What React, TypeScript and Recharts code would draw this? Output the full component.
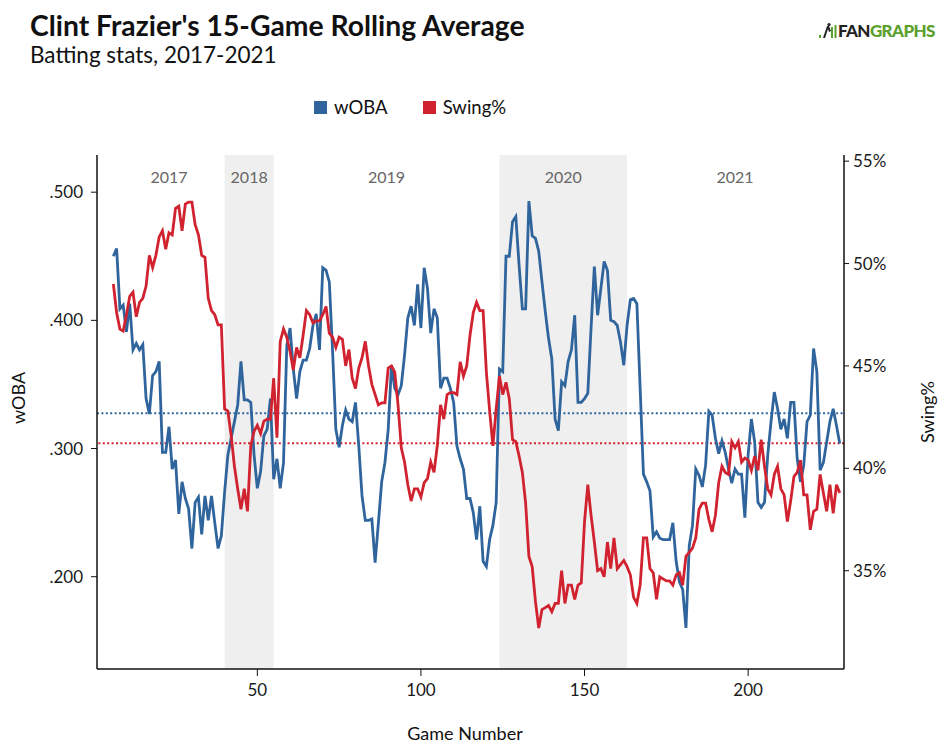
import React from 'react';
import {
  ComposedChart,
  Line,
  XAxis,
  YAxis,
  ReferenceArea,
  ReferenceLine,
} from 'recharts';

// first game number that has a 15-game rolling value
const FIRST_GAME = 6;

const wobaValues = [
  0.450, 0.456, 0.409, 0.412, 0.391, 0.413, 0.377, 0.382, 0.377, 0.381,
  0.339, 0.327, 0.357, 0.360, 0.368, 0.297, 0.297, 0.317, 0.284, 0.291,
  0.249, 0.274, 0.261, 0.253, 0.222, 0.258, 0.262, 0.233, 0.263, 0.244,
  0.263, 0.242, 0.222, 0.232, 0.266, 0.295, 0.308, 0.321, 0.334, 0.368,
  0.338, 0.338, 0.336, 0.295, 0.269, 0.282, 0.310, 0.315, 0.339, 0.276,
  0.292, 0.269, 0.289, 0.380, 0.394, 0.362, 0.339, 0.360, 0.369, 0.369,
  0.378, 0.396, 0.405, 0.377, 0.441, 0.439, 0.430, 0.376, 0.315, 0.301,
  0.318, 0.330, 0.323, 0.321, 0.336, 0.302, 0.263, 0.244, 0.244, 0.245,
  0.211, 0.242, 0.274, 0.289, 0.315, 0.365, 0.347, 0.342, 0.349, 0.373,
  0.402, 0.411, 0.396, 0.428, 0.394, 0.441, 0.425, 0.390, 0.409, 0.402,
  0.347, 0.355, 0.355, 0.347, 0.336, 0.302, 0.292, 0.284, 0.261, 0.261,
  0.250, 0.229, 0.255, 0.212, 0.208, 0.229, 0.240, 0.258, 0.362, 0.360,
  0.450, 0.450, 0.477, 0.481, 0.443, 0.409, 0.409, 0.493, 0.466, 0.464,
  0.454, 0.430, 0.407, 0.386, 0.370, 0.323, 0.314, 0.352, 0.349, 0.368,
  0.377, 0.404, 0.336, 0.336, 0.339, 0.343, 0.394, 0.442, 0.404, 0.425,
  0.446, 0.439, 0.400, 0.399, 0.396, 0.383, 0.365, 0.396, 0.416, 0.417,
  0.413, 0.347, 0.280, 0.274, 0.267, 0.231, 0.235, 0.230, 0.229, 0.229,
  0.229, 0.242, 0.212, 0.196, 0.190, 0.160, 0.224, 0.240, 0.284, 0.279,
  0.270, 0.287, 0.329, 0.326, 0.308, 0.296, 0.306, 0.297, 0.284, 0.273,
  0.284, 0.280, 0.280, 0.246, 0.295, 0.323, 0.305, 0.258, 0.254, 0.258,
  0.295, 0.321, 0.344, 0.331, 0.315, 0.323, 0.308, 0.336, 0.336, 0.292,
  0.274, 0.287, 0.321, 0.326, 0.378, 0.360, 0.283, 0.289, 0.305, 0.321,
  0.331, 0.318, 0.304,
];

const swingValues = [
  49.0, 47.6, 46.8, 46.7, 47.5, 48.4, 48.6, 47.4, 48.1, 48.3,
  48.9, 50.4, 49.8, 50.4, 51.3, 51.6, 50.7, 51.5, 51.4, 52.7,
  52.8, 51.6, 52.9, 53.0, 53.0, 51.9, 51.4, 50.4, 50.3, 48.3,
  47.7, 47.5, 47.0, 47.0, 42.9, 42.8, 41.6, 40.1, 39.0, 38.0,
  39.0, 37.9, 41.1, 41.8, 42.1, 41.7, 42.3, 42.4, 42.4, 44.4,
  41.5, 46.2, 46.8, 46.4, 45.7, 44.8, 45.9, 45.4, 46.5, 47.7,
  47.5, 47.1, 47.2, 47.2, 47.5, 47.9, 46.6, 46.4, 45.9, 46.4,
  46.3, 45.0, 45.8, 44.4, 43.9, 44.9, 45.4, 46.2, 45.0, 44.1,
  43.6, 43.1, 43.2, 43.2, 44.9, 45.0, 44.7, 43.1, 41.0, 40.3,
  39.2, 38.4, 39.0, 39.0, 38.6, 39.3, 39.5, 40.3, 39.8, 41.1,
  43.1, 42.4, 43.6, 43.7, 43.7, 43.6, 45.2, 44.5, 45.0, 46.5,
  47.6, 48.1, 47.7, 47.7, 44.7, 42.8, 41.1, 42.9, 44.5, 43.6,
  44.2, 43.4, 41.4, 41.3, 40.6, 39.8, 38.3, 35.7, 35.2, 33.5,
  32.2, 33.1, 33.2, 33.3, 33.0, 33.4, 33.4, 35.0, 33.4, 34.3,
  34.3, 33.6, 34.3, 34.4, 37.4, 39.2, 37.7, 36.4, 35.0, 35.1,
  34.7, 36.4, 35.1, 36.6, 35.1, 35.3, 35.5, 35.2, 34.8, 33.7,
  33.4, 34.3, 36.6, 36.6, 35.1, 34.9, 33.6, 34.7, 34.6, 34.5,
  34.5, 34.3, 34.8, 34.9, 34.3, 35.7, 35.9, 36.1, 36.6, 38.0,
  38.3, 38.3, 37.5, 36.9, 37.7, 39.3, 40.1, 39.8, 39.7, 41.3,
  41.0, 41.3, 40.3, 40.5, 40.4, 39.9, 40.6, 39.9, 41.4, 40.1,
  39.0, 38.7, 39.7, 40.1, 39.0, 38.7, 37.4, 38.4, 39.6, 39.8,
  40.4, 38.7, 38.7, 37.0, 37.9, 38.0, 39.7, 38.8, 37.9, 39.2,
  37.8, 39.2, 38.8,
];

// season spans in game numbers, shaded ones alternate
const seasons = [
  { label: '2017', start: 1, end: 40, mid: 23, shaded: false },
  { label: '2018', start: 40, end: 55, mid: 47.5, shaded: true },
  { label: '2019', start: 55, end: 124, mid: 89.5, shaded: false },
  { label: '2020', start: 124, end: 163, mid: 143.5, shaded: true },
  { label: '2021', start: 163, end: 229.3, mid: 196, shaded: false },
];

const xTicks = [50, 100, 150, 200];
const wobaTicks = [0.2, 0.3, 0.4, 0.5];
const swingTicks = [35, 40, 45, 50, 55];

const WOBA_AVG = 0.3275;
const SWING_AVG = 41.22;

const BLUE = '#2f659c';
const RED = '#d0222f';
const FONT = 'Lato, "Open Sans", sans-serif';

const data = wobaValues.map((w, i) => ({
  game: FIRST_GAME + i,
  woba: w,
  swing: swingValues[i],
}));

const tickStyle = { fontSize: 17, fill: '#1a1a1a', fontFamily: FONT };
const axisLine = { stroke: '#111', strokeWidth: 1.5 };

const App = () => {
  return (
    <div
      style={{
        position: 'absolute',
        left: 0,
        top: 0,
        width: 945,
        height: 751,
        background: '#fff',
        fontFamily: FONT,
        color: '#111',
      }}
    >
      <div
        style={{
          position: 'absolute',
          left: 30,
          top: 9,
          fontSize: 28.3,
          fontWeight: 700,
          lineHeight: 1.2,
        }}
      >
        Clint Frazier's 15-Game Rolling Average
      </div>
      <div
        style={{
          position: 'absolute',
          left: 30,
          top: 41,
          fontSize: 22.5,
          lineHeight: 1.2,
        }}
      >
        Batting stats, 2017-2021
      </div>

      <div
        style={{
          position: 'absolute',
          left: 819,
          top: 20,
          display: 'flex',
          alignItems: 'center',
          fontSize: 17,
          fontWeight: 900,
          letterSpacing: -0.6,
        }}
      >
        <svg width="18" height="15" style={{ marginRight: 1 }}>
          <rect x="0" y="12" width="2" height="3" fill="#5aa02c" />
          <path d="M4 15 L8 3 L10 3 L12 8 L10 9 L9 6 L6 15 Z" fill="#222" />
          <circle cx="10" cy="1.6" r="1.6" fill="#222" />
          <rect x="12" y="4" width="2" height="11" fill="#5aa02c" />
          <rect x="15.5" y="2" width="2" height="13" fill="#5aa02c" />
        </svg>
        <span style={{ color: '#222' }}>FAN</span>
        <span style={{ color: '#5aa02c' }}>GRAPHS</span>
      </div>

      <div
        style={{
          position: 'absolute',
          left: 314,
          top: 96,
          display: 'flex',
          alignItems: 'center',
          fontSize: 18.5,
        }}
      >
        <span style={{ width: 13, height: 13, background: BLUE, display: 'inline-block', marginRight: 7 }} />
        <span style={{ marginRight: 35 }}>wOBA</span>
        <span style={{ width: 13, height: 13, background: RED, display: 'inline-block', marginRight: 7 }} />
        <span>Swing%</span>
      </div>

      <ComposedChart
        width={945}
        height={751}
        data={data}
        margin={{ top: 155, right: 0, bottom: 0, left: 0 }}
      >
        {seasons.map((s) => (
          <ReferenceArea
            key={s.label}
            yAxisId="left"
            x1={s.start}
            x2={s.end}
            fill={s.shaded ? '#efefef' : '#ffffff'}
            fillOpacity={s.shaded ? 1 : 0}
            stroke="none"
          />
        ))}
        {seasons.map((s) => (
          <ReferenceLine
            key={'lbl' + s.label}
            yAxisId="left"
            x={s.mid}
            stroke="none"
            label={{
              value: s.label,
              position: 'insideTop',
              offset: 17,
              fill: '#666',
              fontSize: 16,
              fontFamily: FONT,
            }}
          />
        ))}
        <XAxis
          dataKey="game"
          type="number"
          domain={[1, 229.3]}
          ticks={xTicks}
          height={82}
          tickSize={7}
          tickMargin={8}
          axisLine={axisLine}
          tickLine={{ stroke: '#111' }}
          tick={tickStyle}
          allowDataOverflow
        />
        <YAxis
          yAxisId="left"
          orientation="left"
          width={97}
          domain={[0.128, 0.529]}
          ticks={wobaTicks}
          tickFormatter={(v: number) => v.toFixed(3).slice(1)}
          tickSize={6}
          tickMargin={8}
          axisLine={axisLine}
          tickLine={{ stroke: '#111' }}
          tick={tickStyle}
          allowDataOverflow
        />
        <YAxis
          yAxisId="right"
          orientation="right"
          width={101}
          domain={[30.2, 55.3]}
          ticks={swingTicks}
          tickFormatter={(v: number) => `${v}%`}
          tickSize={5}
          tickMargin={4}
          axisLine={axisLine}
          tickLine={{ stroke: '#111' }}
          tick={tickStyle}
          allowDataOverflow
        />
        <ReferenceLine
          yAxisId="left"
          y={WOBA_AVG}
          stroke={BLUE}
          strokeWidth={2}
          strokeDasharray="2 2.4"
        />
        <ReferenceLine
          yAxisId="right"
          y={SWING_AVG}
          stroke={RED}
          strokeWidth={2}
          strokeDasharray="2 2.4"
        />
        <Line
          yAxisId="left"
          dataKey="woba"
          stroke={BLUE}
          strokeWidth={2.8}
          dot={false}
          type="linear"
          isAnimationActive={false}
        />
        <Line
          yAxisId="right"
          dataKey="swing"
          stroke={RED}
          strokeWidth={2.8}
          dot={false}
          type="linear"
          isAnimationActive={false}
        />
      </ComposedChart>

      <div
        style={{
          position: 'absolute',
          left: 18,
          top: 398,
          transform: 'translate(-50%, -50%) rotate(-90deg)',
          fontSize: 18,
          whiteSpace: 'nowrap',
        }}
      >
        wOBA
      </div>
      <div
        style={{
          position: 'absolute',
          left: 927,
          top: 412,
          transform: 'translate(-50%, -50%) rotate(-90deg)',
          fontSize: 18,
          whiteSpace: 'nowrap',
        }}
      >
        Swing%
      </div>
      <div
        style={{
          position: 'absolute',
          left: 465,
          top: 733,
          transform: 'translate(-50%, -50%)',
          fontSize: 18,
          whiteSpace: 'nowrap',
        }}
      >
        Game Number
      </div>
    </div>
  );
};

export default App;
